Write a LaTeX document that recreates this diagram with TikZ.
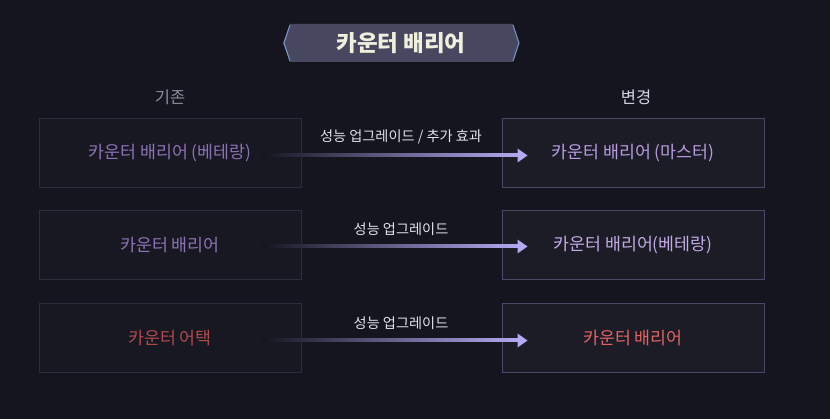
\documentclass[tikz,border=0pt]{standalone}
\usepackage{fontspec}
\newfontfamily\kr{Noto Sans CJK KR}
\usetikzlibrary{calc}
\definecolor{bg}{HTML}{15151F}
\definecolor{boxL}{HTML}{181822}
\definecolor{boxR}{HTML}{1C1C26}
\definecolor{edgeL}{HTML}{2C2C3C}
\definecolor{edgeR}{HTML}{4A4868}
\definecolor{banner}{HTML}{474760}
\definecolor{bannerEdge}{HTML}{7A94C8}
\definecolor{titletext}{HTML}{F0EEDC}
\definecolor{purpleL}{HTML}{8C72B4}
\definecolor{purpleR}{HTML}{B89CE2}
\definecolor{redL}{HTML}{B04A4C}
\definecolor{redR}{HTML}{E06464}
\definecolor{arrowc}{HTML}{B2AAF2}
\definecolor{labelc}{HTML}{E2E2EC}
\definecolor{headL}{HTML}{8C8C9A}
\definecolor{headR}{HTML}{D4D4E2}
\tikzset{
  oldbox/.style={draw=edgeL, fill=boxL, line width=1pt, minimum width=262pt, minimum height=69pt, inner sep=0pt, font=\kr\fontsize{17.3}{19}\selectfont},
  newbox/.style={draw=edgeR, fill=boxR, line width=1pt, minimum width=262pt, minimum height=69pt, inner sep=0pt, font=\kr\fontsize{17.3}{19}\selectfont},
  lbl/.style={text=labelc, font=\kr\fontsize{14.2}{16}\selectfont, inner sep=0pt},
  head/.style={font=\kr\fontsize{16.5}{18}\selectfont, inner sep=0pt}
}
\newcommand{\gradarrow}[2]{%
  \shade[left color=bg, right color=arrowc] ($(#1)+(0,-1.5)$) rectangle ($(#2)+(-8,1.5)$);
  \fill[arrowc] ($(#2)+(-10,-7)$) -- (#2) -- ($(#2)+(-10,7)$) -- cycle;
}
\begin{document}
\begin{tikzpicture}[x=1pt,y=-1pt]
\fill[bg] (0,0) rectangle (830,419);
\useasboundingbox (0,0) rectangle (830,419);
% title banner
\fill[banner] (283,43) -- (290,24) -- (513,24) -- (519,43) -- (513,62) -- (290,62) -- cycle;
\draw[bannerEdge, line width=1pt] (290,25) -- (284,43) -- (290,61);
\draw[bannerEdge, line width=1pt] (513,25) -- (519,43) -- (513,61);
\node[text=titletext, font=\kr\bfseries\fontsize{22.5}{24}\selectfont, inner sep=0pt] (title) at (401,43) {카운터 배리어};
% headers
\node[head, text=headL] (hold) at (170,97) {기존};
\node[head, text=headR] (hnew) at (636,97) {변경};
% boxes
\node[oldbox, text=purpleL] (o1) at (170,153.5) {카운터 배리어 (베테랑)};
\node[oldbox, text=purpleL] (o2) at (170,245.5) {카운터 배리어};
\node[oldbox, text=redL] (o3) at (170,338.5) {카운터 어택};
\node[newbox, text=purpleR] (n1) at (633,153.5) {카운터 배리어 (마스터)};
\node[newbox, text=purpleR!85!white] (n2) at (633,245.5) {카운터 배리어(베테랑)};
\node[newbox, text=redR] (n3) at (633,338.5) {카운터 배리어};
% arrows
\coordinate (s1) at ($(o1.east)+(-40,2)$);
\coordinate (e1) at ($(n1.west)+(26,2)$);
\coordinate (s2) at ($(o2.east)+(-40,1)$);
\coordinate (e2) at ($(n2.west)+(26,1)$);
\coordinate (s3) at ($(o3.east)+(-40,2)$);
\coordinate (e3) at ($(n3.west)+(26,2)$);
\gradarrow{s1}{e1}
\gradarrow{s2}{e2}
\gradarrow{s3}{e3}
\node[lbl] (l1) at (401,137) {성능 업그레이드 / 추가 효과};
\node[lbl] (l2) at (401,229) {성능 업그레이드};
\node[lbl] (l3) at (401,323) {성능 업그레이드};
\end{tikzpicture}
\end{document}
